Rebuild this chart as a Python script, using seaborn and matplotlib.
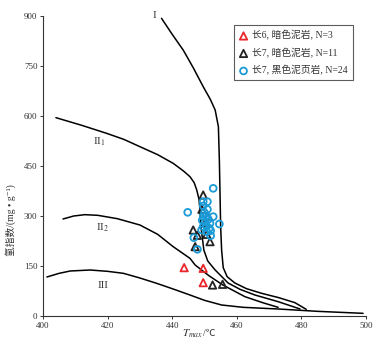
import matplotlib
matplotlib.use("Agg")
import matplotlib.pyplot as plt
import seaborn as sns

# ---- data ----
curve_I_x = [436.7, 440.0, 443.4, 446.5, 449.6, 451.8, 453.3, 454.3, 454.6, 454.8, 455.0, 455.3, 455.8, 457.0, 459.4, 463.0, 467.7, 473.0, 478.0, 481.5]
curve_I_y = [893, 845, 798, 745, 688, 650, 618, 568, 468, 369, 268, 198, 145, 118, 99, 82, 68, 55, 40, 20]

curve_II1_x = [404.0, 412.0, 419.7, 425.0, 430.0, 435.5, 440.3, 443.5, 445.5, 446.8, 447.6, 448.3, 448.6, 449.0, 449.8, 451.0, 453.3, 457.3, 461.0, 465.6, 472.8, 479.6]
curve_II1_y = [595, 572, 548, 530, 508, 484, 458, 435, 418, 400, 378, 350, 318, 260, 198, 165, 138, 99, 80, 63, 43, 21]

curve_II2_x = [406.2, 409.5, 413.0, 417.0, 423.0, 430.0, 435.5, 440.3, 445.5, 447.1, 451.5, 455.7, 462.5, 468.0, 472.8]
curve_II2_y = [291, 300, 304, 302, 292, 273, 245, 208, 173, 153, 120, 93, 58, 40, 26]

curve_III_x = [401.2, 405.0, 408.4, 414.6, 420.0, 424.9, 430.0, 435.2, 440.0, 445.5, 450.0, 455.3, 462.0, 472.8, 485.0, 499.1]
curve_III_y = [117, 128, 135, 138, 134, 128, 114, 98, 82, 63, 47, 33, 26, 21, 14, 8]

c6_tmax = [443.7, 449.6, 449.6]
c6_hi = [145, 143, 100]

c7d_tmax = [449.6, 446.5, 447.1, 451.7, 447.8, 452.5, 455.6, 450.7, 450.3, 451.0, 449.2]
c7d_hi = [363, 258, 208, 223, 242, 93, 95, 245, 280, 300, 320]

c7b_tmax = [452.7, 444.8, 449.6, 450.9, 449.6, 450.9, 449.6, 450.5, 452.7, 454.6, 450.2, 451.7,
            449.6, 451.5, 449.1, 450.7, 451.9, 451.9, 446.7, 447.8, 450.0, 449.3, 450.6, 451.2]
c7b_hi = [383, 311, 343, 343, 330, 320, 298, 300, 298, 276, 283, 278,
          268, 263, 258, 253, 256, 241, 235, 200, 310, 287, 270, 290]

labels = ["长6, 暗色泥岩, N=3", "长7, 暗色泥岩, N=11", "长7, 黑色泥页岩, N=24"]
x_ticks = [400, 420, 440, 460, 480, 500]
y_ticks = [0, 150, 300, 450, 600, 750, 900]

# ---- style ----
sns.set_style("ticks")
fam = ['Liberation Serif', 'Noto Sans CJK SC', 'DejaVu Sans']
plt.rcParams['font.family'] = fam
plt.rcParams['mathtext.fontset'] = 'stix'
plt.rcParams['axes.unicode_minus'] = False
txt = "#333333"

fig = plt.figure(figsize=(3.8, 3.48), dpi=100)
ax = fig.add_axes([43/380, 32/348, 323/380, 300/348])

for cx, cy in [(curve_I_x, curve_I_y), (curve_II1_x, curve_II1_y),
               (curve_II2_x, curve_II2_y), (curve_III_x, curve_III_y)]:
    sns.lineplot(x=cx, y=cy, sort=False, ax=ax, color="black", lw=1.1, estimator=None)

sns.scatterplot(x=c6_tmax, y=c6_hi, ax=ax, marker="^", s=28, facecolor="none",
                edgecolor="#e8262b", linewidth=1.3, label=labels[0], zorder=5)
sns.scatterplot(x=c7d_tmax, y=c7d_hi, ax=ax, marker="^", s=28, facecolor="none",
                edgecolor="#222222", linewidth=1.3, label=labels[1], zorder=5)
sns.scatterplot(x=c7b_tmax, y=c7b_hi, ax=ax, marker="o", s=24, facecolor="none",
                edgecolor="#1a9ad6", linewidth=1.3, label=labels[2], zorder=6)

ax.set_xlim(400, 500)
ax.set_ylim(0, 900)
ax.set_xticks(x_ticks)
ax.set_yticks(y_ticks)
ax.tick_params(axis='both', labelsize=6.5, colors="#333333", length=2.5, width=0.7, pad=1.5)
for s in ["left", "bottom"]:
    ax.spines[s].set_linewidth(0.8)
    ax.spines[s].set_color("#333333")
sns.despine(ax=ax)

# x label: math part + unicode part
ax.set_xlabel("")
fig.text(203/380, 14/348, "$T_{max}$", fontsize=8, color=txt, ha="right", va="center")
fig.text(203/380, 14/348, "/℃", fontsize=7, color=txt, ha="left", va="center", family=fam)

ax.set_ylabel("氢指数/(mg • g⁻¹)", fontsize=7, color=txt)
ax.yaxis.set_label_coords(-0.085, 0.32)

# zone labels
ax.text(435.0, 900, "I", fontsize=8, color=txt, ha="right", va="center")
ax.text(417.5, 522, "II$_{1}$", fontsize=8, color=txt, ha="center", va="center")
ax.text(418.5, 264, "II$_{2}$", fontsize=8, color=txt, ha="center", va="center")
ax.text(418.5, 93, "III", fontsize=8, color=txt, ha="center", va="center")

leg = ax.legend(loc="upper right", bbox_to_anchor=(0.965, 0.975), fontsize=7,
                frameon=True, fancybox=False, handletextpad=0.4, borderpad=0.5,
                labelspacing=0.75, handlelength=1.0, borderaxespad=0.2)
leg.get_frame().set_edgecolor("#333333")
leg.get_frame().set_linewidth(0.8)
for t in leg.get_texts():
    t.set_color(txt)

fig.savefig("out.png", dpi=100)
